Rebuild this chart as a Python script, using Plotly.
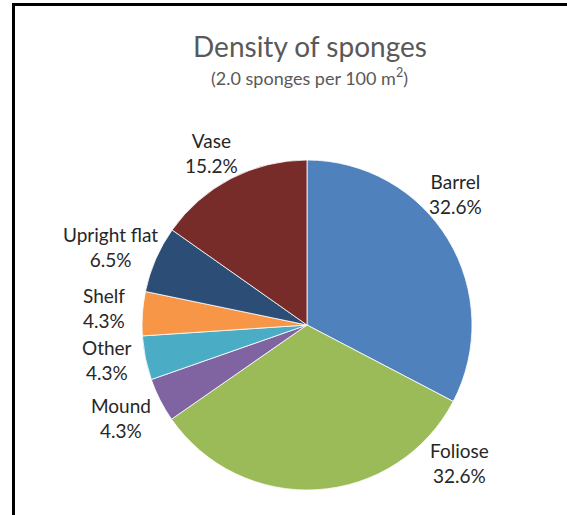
import plotly.graph_objects as go

# Sponge growth forms and their share of all sponges counted (%)
forms = ["Barrel", "Foliose", "Mound", "Other", "Shelf", "Upright flat", "Vase"]
shares = [32.6, 32.6, 4.3, 4.3, 4.3, 6.5, 15.2]
colors = ["#4F81BD", "#9BBB59", "#8064A2", "#4BACC6", "#F79646", "#2C4D75", "#772C2A"]

# Label anchor points (pixels from the top-left) for each form's data label
label_x = [455, 459, 121, 107, 104, 110, 211]
label_y = [194, 463, 418, 360, 308, 247, 153]

W, H = 567, 515
FONT = "Lato, 'Open Sans', sans-serif"

fig = go.Figure(
    go.Pie(
        labels=forms,
        values=shares,
        sort=False,
        direction="clockwise",
        rotation=0,
        marker=dict(colors=colors, line=dict(color="white", width=0.8)),
        textinfo="none",
        hoverinfo="label+percent",
        showlegend=False,
        domain=dict(x=[142 / W, 472 / W], y=[25 / H, 355 / H]),
    )
)

annotations = [
    dict(text="Density of sponges", x=310 / W, y=1 - 46 / H, xref="paper", yref="paper",
         showarrow=False, font=dict(family=FONT, size=28, color="#595959"),
         xanchor="center", yanchor="middle"),
    dict(text="(2.0 sponges per 100 m<sup>2</sup>)", x=309 / W, y=1 - 77 / H,
         xref="paper", yref="paper", showarrow=False,
         font=dict(family=FONT, size=18, color="#595959"),
         xanchor="center", yanchor="middle"),
]
for name, val, lx, ly in zip(forms, shares, label_x, label_y):
    annotations.append(dict(
        text=f"{name}<br>{val:.1f}%", x=lx / W, y=1 - ly / H,
        xref="paper", yref="paper", showarrow=False, align="center",
        font=dict(family=FONT, size=19, color="#262626"),
        xanchor="center", yanchor="middle",
    ))

fig.update_layout(
    width=W, height=H,
    margin=dict(l=0, r=0, t=0, b=0),
    paper_bgcolor="white",
    plot_bgcolor="white",
    annotations=annotations,
    shapes=[dict(type="rect", xref="paper", yref="paper",
                 x0=13.5 / W, x1=1.05, y0=-0.05, y1=1 - 4.5 / H,
                 line=dict(color="black", width=3))],
)

fig.write_html("out.html")
